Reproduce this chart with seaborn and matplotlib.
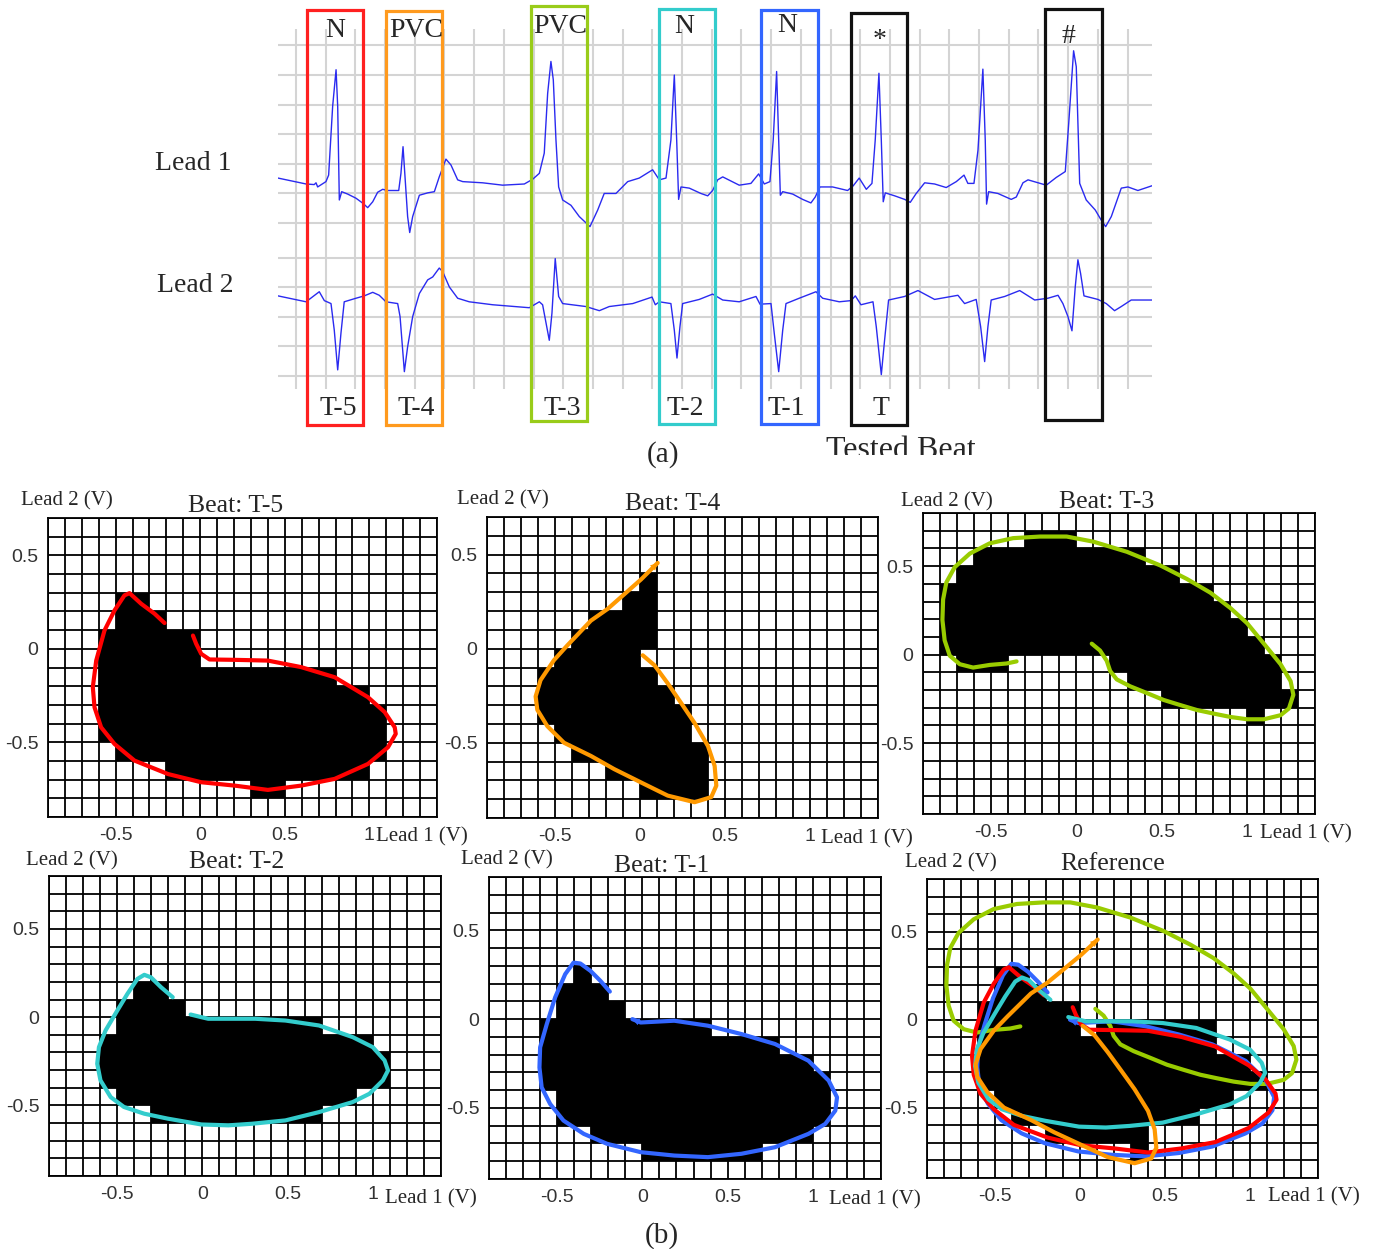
import numpy as np
import matplotlib
matplotlib.use("Agg")
import matplotlib.pyplot as plt
from matplotlib.patches import Rectangle
from matplotlib.colors import ListedColormap
import seaborn as sns

# ---------------- two-lead ECG strip (time in s, amplitude in mV) ----------------
lead1_t = [0.0, 0.189, 0.244, 0.256, 0.267, 0.323, 0.341, 0.368, 0.391, 0.402,
           0.413, 0.429, 0.469, 0.525, 0.574, 0.604, 0.638, 0.671, 0.705, 0.739,
           0.813, 0.828, 0.842, 0.857, 0.873, 0.887, 0.907, 0.952, 1.008, 1.053,
           1.086, 1.131, 1.165, 1.210, 1.244, 1.378, 1.513, 1.659, 1.715, 1.760,
           1.793, 1.816, 1.838, 1.854, 1.872, 1.890, 1.917, 1.973, 2.029, 2.101,
           2.153, 2.197, 2.276, 2.355, 2.433, 2.523, 2.568, 2.613, 2.646, 2.669,
           2.685, 2.698, 2.714, 2.770, 2.848, 2.894, 2.927, 2.961, 2.995, 3.106,
           3.185, 3.237, 3.275, 3.313, 3.335, 3.358, 3.372, 3.383, 3.399, 3.466,
           3.533, 3.589, 3.618, 3.650, 3.735, 3.836, 3.874, 3.914, 3.962, 4.000,
           4.022, 4.047, 4.063, 4.076, 4.090, 4.153, 4.220, 4.258, 4.298, 4.355,
           4.422, 4.500, 4.568, 4.620, 4.646, 4.687, 4.714, 4.747, 4.763, 4.772,
           4.786, 4.848, 4.938, 4.972, 5.017, 5.051, 5.174, 5.241, 5.302, 5.325,
           5.358, 5.376, 5.399, 5.443, 5.504, 5.544, 5.574, 5.612, 5.679, 5.724,
           5.791, 5.886]
lead1_mv = [0.06, -0.04, -0.05, -0.02, -0.09, 0.00, 0.11, 1.27, 1.89, 1.27,
            -0.31, -0.17, -0.21, -0.28, -0.37, -0.44, -0.34, -0.18, -0.13, -0.15,
            -0.15, 0.14, 0.59, 0.03, -0.59, -0.86, -0.59, -0.23, -0.19, -0.17,
            0.08, 0.38, 0.28, 0.03, 0.00, -0.02, -0.06, -0.04, 0.04, 0.14,
            0.48, 1.49, 2.03, 1.72, 0.70, -0.09, -0.31, -0.40, -0.59, -0.76,
            -0.48, -0.20, -0.20, 0.00, 0.06, 0.20, 0.03, 0.06, 0.70, 1.80,
            0.70, -0.30, -0.09, -0.11, -0.20, -0.24, -0.15, 0.03, 0.08, -0.06,
            -0.03, 0.13, -0.04, 0.00, 0.70, 1.86, 0.70, -0.23, -0.17, -0.21,
            -0.30, -0.36, -0.26, -0.09, -0.09, -0.15, -0.07, 0.06, -0.13, -0.03,
            0.70, 1.83, 0.70, -0.34, -0.19, -0.24, -0.30, -0.35, -0.20, -0.02,
            -0.04, -0.10, 0.00, 0.11, -0.03, -0.03, 0.53, 1.90, 0.70, -0.38,
            -0.17, -0.20, -0.30, -0.26, -0.02, 0.03, -0.06, 0.07, 0.17, 0.98,
            2.21, 1.94, -0.03, -0.31, -0.48, -0.65, -0.76, -0.59, -0.11, -0.09,
            -0.15, -0.07]
lead2_t = [0.0, 0.189, 0.278, 0.312, 0.357, 0.379, 0.402, 0.424, 0.446, 0.525,
           0.581, 0.638, 0.682, 0.727, 0.806, 0.822, 0.851, 0.873, 0.907, 0.952,
           1.008, 1.042, 1.086, 1.109, 1.154, 1.210, 1.288, 1.446, 1.692, 1.760,
           1.782, 1.827, 1.845, 1.867, 1.890, 1.917, 2.074, 2.164, 2.231, 2.389,
           2.519, 2.541, 2.568, 2.646, 2.669, 2.687, 2.707, 2.725, 2.837, 2.927,
           2.995, 3.106, 3.219, 3.246, 3.320, 3.342, 3.372, 3.399, 3.421, 3.510,
           3.623, 3.668, 3.780, 3.859, 3.888, 3.926, 4.007, 4.029, 4.063, 4.085,
           4.112, 4.220, 4.310, 4.422, 4.579, 4.624, 4.702, 4.732, 4.759, 4.781,
           4.803, 4.894, 4.995, 5.096, 5.185, 5.253, 5.286, 5.320, 5.347, 5.369,
           5.387, 5.405, 5.428, 5.522, 5.578, 5.634, 5.679, 5.746, 5.886]
lead2_mv = [0.07, -0.03, 0.14, -0.01, -0.06, -0.51, -1.18, -0.56, -0.03, 0.03,
            0.07, 0.13, 0.08, -0.03, -0.06, -0.28, -1.21, -0.79, -0.28, 0.11,
            0.34, 0.39, 0.54, 0.48, 0.22, 0.03, -0.03, -0.08, -0.13, -0.03,
            -0.08, -0.68, -0.22, 0.70, 0.06, -0.06, -0.11, -0.18, -0.11, -0.06,
            0.05, -0.08, -0.03, -0.06, -0.51, -0.98, -0.45, -0.06, 0.01, 0.10,
            0.00, -0.03, 0.06, -0.07, -0.06, -0.56, -1.21, -0.51, -0.06, 0.03,
            0.14, 0.03, -0.03, -0.01, 0.07, -0.08, -0.03, -0.45, -1.26, -0.68,
            0.00, 0.06, 0.16, 0.01, 0.08, -0.06, 0.01, -0.45, -1.04, -0.45,
            0.00, 0.06, 0.16, 0.00, 0.03, 0.08, -0.06, -0.28, -0.52, 0.22,
            0.68, 0.45, 0.07, 0.01, -0.06, -0.18, -0.11, 0.00, 0.00]
LEAD1_OFFSET = 2.0  # vertical offset (mV) separating the two leads

beat_types = ["N", "PVC", "PVC", "N", "N", "*", "#"]
beat_names = ["T-5", "T-4", "T-3", "T-2", "T-1", "T"]

# ---------------- Lead 1 vs Lead 2 loops (V) ----------------
t5_x = [-0.043, -0.024, 0.006, 0.055, 0.203, 0.400, 0.597, 0.795, 0.992, 1.091,
        1.150, 1.156, 1.110, 0.992, 0.795, 0.597, 0.400, 0.203, 0.006, -0.191,
        -0.389, -0.507, -0.586, -0.625, -0.635, -0.615, -0.566, -0.507, -0.448,
        -0.418, -0.349, -0.270, -0.211]
t5_y = [0.071, 0.027, -0.027, -0.057, -0.059, -0.063, -0.098, -0.152, -0.259,
        -0.339, -0.420, -0.455, -0.527, -0.616, -0.696, -0.732, -0.755, -0.732,
        -0.714, -0.670, -0.598, -0.509, -0.420, -0.313, -0.205, -0.063, 0.098,
        0.205, 0.286, 0.298, 0.241, 0.188, 0.138]

t4_x = [0.016, 0.085, 0.163, 0.242, 0.321, 0.400, 0.439, 0.449, 0.419, 0.321,
        0.163, 0.006, -0.152, -0.289, -0.447, -0.545, -0.604, -0.614, -0.585,
        -0.506, -0.427, -0.289, -0.191, -0.093, 0.006, 0.104]
t4_y = [-0.035, -0.088, -0.184, -0.289, -0.395, -0.518, -0.623, -0.728, -0.789,
        -0.816, -0.781, -0.711, -0.640, -0.570, -0.500, -0.412, -0.325, -0.254,
        -0.167, -0.061, 0.018, 0.149, 0.211, 0.289, 0.368, 0.456]

t3_x = [-0.351, -0.410, -0.508, -0.606, -0.684, -0.743, -0.773, -0.786, -0.782,
        -0.763, -0.714, -0.625, -0.508, -0.371, -0.214, -0.057, 0.100, 0.296,
        0.492, 0.649, 0.786, 0.904, 1.002, 1.100, 1.198, 1.257, 1.273, 1.247,
        1.198, 1.100, 1.002, 0.904, 0.806, 0.708, 0.610, 0.512, 0.414, 0.316,
        0.237, 0.198, 0.178, 0.139, 0.090]
t3_y = [-0.038, -0.050, -0.058, -0.073, -0.054, -0.006, 0.081, 0.196, 0.312,
        0.408, 0.494, 0.571, 0.629, 0.658, 0.667, 0.667, 0.638, 0.581, 0.504,
        0.427, 0.350, 0.263, 0.177, 0.062, -0.054, -0.150, -0.227, -0.304,
        -0.342, -0.365, -0.365, -0.352, -0.333, -0.313, -0.285, -0.256, -0.217,
        -0.179, -0.140, -0.092, -0.035, 0.023, 0.062]

t2_x = [-0.069, -0.006, 0.034, 0.191, 0.310, 0.487, 0.684, 0.882, 1.000, 1.069,
        1.089, 1.059, 0.980, 0.882, 0.684, 0.487, 0.290, 0.152, -0.006, -0.203,
        -0.341, -0.460, -0.538, -0.598, -0.617, -0.607, -0.568, -0.499, -0.440,
        -0.381, -0.341, -0.302, -0.243, -0.174]
t2_y = [0.015, 0.000, -0.009, -0.009, -0.009, -0.019, -0.047, -0.113, -0.170,
        -0.245, -0.302, -0.358, -0.434, -0.481, -0.538, -0.585, -0.604, -0.613,
        -0.608, -0.575, -0.547, -0.509, -0.453, -0.358, -0.264, -0.170, -0.075,
        0.038, 0.132, 0.217, 0.240, 0.226, 0.170, 0.113]

t1_x = [-0.191, -0.246, -0.305, -0.364, -0.404, -0.453, -0.512, -0.561, -0.600,
        -0.604, -0.591, -0.541, -0.463, -0.344, -0.207, -0.010, 0.187, 0.384,
        0.581, 0.778, 0.974, 1.073, 1.132, 1.142, 1.093, 0.974, 0.778, 0.581,
        0.384, 0.187, -0.010, -0.059]
t1_y = [0.155, 0.215, 0.272, 0.313, 0.318, 0.253, 0.122, -0.028, -0.159,
        -0.272, -0.384, -0.478, -0.571, -0.646, -0.702, -0.749, -0.768, -0.777,
        -0.758, -0.721, -0.646, -0.590, -0.515, -0.440, -0.346, -0.234, -0.140,
        -0.084, -0.037, -0.009, -0.019, 0.000]

loops = {"T-5": (t5_x, t5_y), "T-4": (t4_x, t4_y), "T-3": (t3_x, t3_y),
         "T-2": (t2_x, t2_y), "T-1": (t1_x, t1_y)}
arrow_ends = ["T-4", "T-1"]  # loops drawn with a direction head at their last sample

# occupied 0.1 V cells: (row bottom, first cell left edge, last cell right edge)
t5_cells = [(0.2, -0.5, -0.3), (0.1, -0.5, -0.2), (0.0, -0.6, 0.0), (-0.1, -0.6, 0.0),
            (-0.2, -0.6, 0.8), (-0.3, -0.6, 1.0), (-0.4, -0.6, 1.1), (-0.5, -0.6, 1.1),
            (-0.6, -0.5, 1.1), (-0.7, -0.2, 1.0), (-0.8, 0.3, 0.5)]
t4_cells = [(0.3, 0.0, 0.1), (0.2, -0.1, 0.1), (0.1, -0.3, 0.1), (0.0, -0.4, 0.1),
            (-0.1, -0.5, 0.0), (-0.2, -0.6, 0.1), (-0.3, -0.6, 0.2), (-0.4, -0.6, 0.3),
            (-0.5, -0.5, 0.3), (-0.6, -0.4, 0.4), (-0.7, -0.2, 0.4), (-0.8, 0.0, 0.4)]
t3_cells = [(0.6, -0.3, 0.0), (0.5, -0.6, 0.4), (0.4, -0.7, 0.6), (0.3, -0.8, 0.8),
            (0.2, -0.8, 0.9), (0.1, -0.8, 1.0), (0.0, -0.8, 1.1), (-0.1, -0.7, -0.4),
            (-0.1, 0.2, 1.2), (-0.2, 0.3, 1.2), (-0.3, 0.5, 1.3), (-0.4, 1.0, 1.1)]
t2_cells = [(0.1, -0.4, -0.2), (0.0, -0.5, -0.1), (-0.1, -0.5, 0.7), (-0.2, -0.6, 1.0),
            (-0.3, -0.6, 1.1), (-0.4, -0.6, 1.1), (-0.5, -0.5, 0.9), (-0.6, -0.3, 0.7)]
t1_cells = [(0.2, -0.4, -0.3), (0.1, -0.5, -0.2), (0.0, -0.5, -0.1), (-0.1, -0.6, 0.4),
            (-0.2, -0.6, 0.8), (-0.3, -0.6, 1.0), (-0.4, -0.6, 1.1), (-0.5, -0.5, 1.1),
            (-0.6, -0.5, 1.1), (-0.7, -0.3, 1.0), (-0.8, 0.0, 0.7)]
ref_cells = [(0.2, -0.5, -0.3), (0.1, -0.5, -0.2), (0.0, -0.6, 0.0), (-0.1, -0.6, 0.0),
             (-0.1, 0.1, 0.8), (-0.2, -0.6, 0.8), (-0.3, -0.6, 1.0), (-0.4, -0.6, 1.1),
             (-0.5, -0.5, 0.9), (-0.6, -0.4, 0.7), (-0.7, -0.2, 0.4), (-0.8, 0.3, 0.4)]

# ---------------- styling ----------------
sns.set_style("white")
SERIF = "Liberation Serif"
SANS = "Liberation Sans"
plt.rcParams["font.family"] = [SANS, "DejaVu Sans"]

loop_colors = {"T-5": "#ff0000", "T-4": "#ff9900", "T-3": "#99cc00",
               "T-2": "#33cccc", "T-1": "#3366ff"}
box_colors = ["#ff2020", "#ff9a1e", "#99cc1a", "#33cccc", "#3366ff", "#111111", "#111111"]

W, H = 1377, 1249
fig = plt.figure(figsize=(W / 100, H / 100), dpi=100)


def frame(x0, y0, x1, y1):
    return [x0 / W, 1 - y1 / H, (x1 - x0) / W, (y1 - y0) / H]


def put(x, y, s, size, family=SERIF, ha="center", va="baseline", **kw):
    fig.text(x / W, 1 - y / H, s, fontsize=size, family=family, ha=ha, va=va, **kw)


# ---------------- (a) ECG strip ----------------
ax = fig.add_axes(frame(278, 29, 1152, 389))
ax.set_xlim(0, 5.886)
ax.set_ylim(-1.503, 4.578)
ax.axis("off")
grid_c = "#d4d4d4"
ax.vlines(np.arange(0.1212, 5.886, 0.2), -1.503, 4.578, color=grid_c, lw=1.5, zorder=0)
ax.hlines(1.3 + 0.5 * np.arange(7), 0, 5.886, color=grid_c, lw=1.5, zorder=0)
ax.hlines(-1.285 + 0.5 * np.arange(5), 0, 5.886, color=grid_c, lw=1.5, zorder=0)
sns.lineplot(x=lead1_t, y=np.array(lead1_mv) + LEAD1_OFFSET, ax=ax, sort=False,
             estimator=None, color="#2a2af0", linewidth=1.0)
sns.lineplot(x=lead2_t, y=lead2_mv, ax=ax, sort=False, estimator=None,
             color="#2a2af0", linewidth=1.0)

put(193, 170, "Lead 1", 20)
put(195, 292, "Lead 2", 20)

# beat boxes: left, top, right, bottom (figure pixels)
box_frames = [(307, 10, 363, 425), (386, 11, 442, 425), (531, 6, 587, 421),
              (659, 9, 715, 424), (761, 10, 818, 424), (851, 13, 907, 425),
              (1045, 9, 1102, 420)]
for (x0, y0, x1, y1), c in zip(box_frames, box_colors):
    fig.add_artist(Rectangle((x0 / W, 1 - y1 / H), (x1 - x0) / W, (y1 - y0) / H,
                             transform=fig.transFigure, fill=False, ec=c, lw=2.3))

top_pos = [(335, 37), (416, 37), (560, 33), (684, 33), (787, 32), (880, 47), (1068, 43)]
for (x, y), s in zip(top_pos, beat_types):
    put(x, y, s, 20)
bottom_x = [338, 416, 562, 685, 786, 881]
for x, s in zip(bottom_x, beat_names):
    put(x, 415, s, 20)

put(663, 462, "(a)", 21)
ax_clip = fig.add_axes(frame(0, 0, W, 455))
ax_clip.axis("off")
ax_clip.set_xlim(0, 1)
ax_clip.set_ylim(0, 1)
tb = ax_clip.text(901 / W, -3 / 455, "Tested Beat", fontsize=23, family=SERIF,
                  ha="center", va="baseline")
tb.set_clip_box(ax_clip.bbox)
tb.set_clip_on(True)

# ---------------- (b) Lead 1 / Lead 2 loops on cell grids ----------------
x_edges = np.round(np.arange(-0.9, 1.4001, 0.1), 2)


def cell_mask(rows, y_edges):
    mask = np.zeros((len(y_edges) - 1, len(x_edges) - 1), dtype=bool)
    xc = (x_edges[:-1] + x_edges[1:]) / 2
    yc = (y_edges[:-1] + y_edges[1:]) / 2
    for yb, xa, xb in rows:
        r = np.argmin(np.abs(yc - (yb + 0.05)))
        mask[r, (xc > xa) & (xc < xb)] = True
    return mask


panels = [
    # name, cells, frame(px), y top, title x/baseline, lead2 label, lead1 label
    ("T-5", t5_cells, (48, 518, 437, 817), 0.7, (236, 512), (67, 505), (376, 841)),
    ("T-4", t4_cells, (487, 517, 878, 818), 0.7, (673, 510), (503, 504), (821, 843)),
    ("T-3", t3_cells, (923, 513, 1315, 814), 0.8, (1107, 508), (947, 506), (1260, 838)),
    ("T-2", t2_cells, (49, 876, 441, 1176), 0.8, (237, 868), (72, 865), (385, 1203)),
    ("T-1", t1_cells, (489, 877, 881, 1179), 0.8, (662, 872), (507, 864), (829, 1204)),
    ("Reference", ref_cells, (927, 879, 1318, 1178), 0.8, (1113, 870), (951, 867), (1268, 1201)),
]

for name, cells, fr, ytop, tpos, l2pos, l1pos in panels:
    pax = fig.add_axes(frame(*fr))
    y_edges = np.round(np.arange(-0.9, ytop + 0.0001, 0.1), 2)
    pax.set_xlim(-0.9, 1.4)
    pax.set_ylim(-0.9, ytop)

    filled = cell_mask(cells, y_edges)
    drawn = ["T-3", "T-1", "T-5", "T-2", "T-4"] if name == "Reference" else [name]
    pax.pcolormesh(x_edges, y_edges, np.ma.masked_where(~filled, filled.astype(float)),
                   cmap=ListedColormap(["black"]), shading="flat", zorder=1)
    pax.vlines(x_edges, -0.9, ytop, color="black", lw=1.3, zorder=2)
    pax.hlines(y_edges, -0.9, 1.4, color="black", lw=1.3, zorder=2)
    for k in drawn:
        lx, ly = loops[k]
        sns.lineplot(x=lx, y=ly, ax=pax, sort=False, estimator=None,
                     color=loop_colors[k], linewidth=3.0, zorder=3)
        if k in arrow_ends:
            pax.annotate("", xy=(lx[-1], ly[-1]), xytext=(lx[-2], ly[-2]),
                         arrowprops=dict(arrowstyle="-|>", color=loop_colors[k],
                                         lw=0, mutation_scale=13, shrinkA=0, shrinkB=0),
                         zorder=4)
    for ln in pax.lines:
        ln.set_solid_capstyle("round")
        ln.set_solid_joinstyle("round")

    pax.set_xticks([-0.5, 0, 0.5, 1])
    pax.set_xticklabels(["-0.5", "0", "0.5", "1"])
    pax.set_yticks([-0.5, 0, 0.5])
    pax.set_yticklabels(["-0.5", "0", "0.5"])
    pax.tick_params(length=0, pad=7, labelsize=14, labelcolor="#333333")
    pax.set_xlabel("")
    pax.set_ylabel("")
    for sp in pax.spines.values():
        sp.set_visible(True)
        sp.set_color("black")
        sp.set_linewidth(1.3)

    title = name if name == "Reference" else "Beat: " + name
    put(tpos[0], tpos[1], title, 18.5)
    put(l2pos[0], l2pos[1], "Lead 2 (V)", 15)
    put(l1pos[0], l1pos[1], "Lead 1 (V)", 15, ha="left")

put(662, 1243, "(b)", 21)

fig.savefig("out.png", dpi=100, facecolor="white")
